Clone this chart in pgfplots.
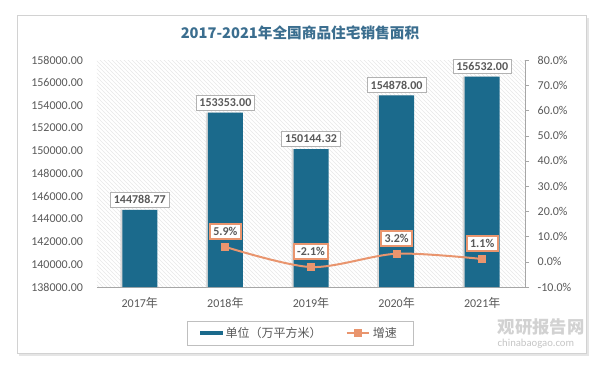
\documentclass[border=0pt]{standalone}
\usepackage{pgfplots}
\pgfplotsset{compat=1.18}
\usepackage{fontspec}
\setmainfont{Carlito}
\newfontfamily\cjk{Noto Sans CJK SC}
\usetikzlibrary{patterns}
\definecolor{barc}{HTML}{1B6A8C}
\definecolor{linec}{HTML}{E9956E}
\definecolor{titc}{HTML}{3B6E8F}
\definecolor{tickc}{HTML}{595959}
\begin{document}
\begin{tikzpicture}
\useasboundingbox (0pt,0pt) rectangle (450pt,276pt);
\begin{scope}[x=0.75pt,y=0.75pt]
\fill[gray!20] (19,12) rectangle (589,350);
\draw[gray!35, fill=white] (17,15) rectangle (586,353);
\node[font=\cjk\fontsize{11}{13}\selectfont\bfseries, text=titc] at (300,335) {2017-2021年全国商品住宅销售面积};
\node[font=\cjk\fontsize{13}{14}\selectfont\bfseries, text=gray!35, anchor=west] at (493,41) {观研报告网};
\node[font=\fontsize{8}{9}\selectfont, text=gray!45, anchor=west] at (493,24) {chinabaogao.com};
\end{scope}
\begin{axis}[
  at={(72.75pt,60.75pt)}, anchor=south west,
  width=321pt, height=170.25pt, scale only axis,
  xmin=-0.5, xmax=4.5, ymin=138000, ymax=158000,
  ytick distance=2000, scaled y ticks=false,
  axis background/.style={pattern=north west lines, pattern color=gray!18},
  axis x line*=bottom, axis y line*=left,
  y axis line style={draw=none},
  xtick={0,1,2,3,4},
  xticklabels={2017{\cjk 年},2018{\cjk 年},2019{\cjk 年},2020{\cjk 年},2021{\cjk 年}},
  major tick length=0pt,
  x axis line style={draw=gray!70},
  yticklabel={\pgfmathprintnumber[fixed,precision=2,zerofill,1000 sep={}]{\tick}},
  ticklabel style={font=\fontsize{9}{10}\selectfont, text=tickc},
  yticklabel style={xshift=-7pt},
  xticklabel style={yshift=-4pt},
  /pgf/number format/assume math mode=true,
  clip=false,
  legend style={at={(0.474,-0.203)}, anchor=center, draw=gray!50, legend columns=2,
    font=\cjk\fontsize{9}{10}\selectfont, text=tickc, /tikz/every even column/.append style={column sep=16pt},
    inner xsep=10pt, inner ysep=2.5pt},
  legend cell align=left,
]
\addplot[ybar, bar width=26.25pt, fill=gray!30, draw=none, bar shift=-1.5pt, forget plot]
  coordinates {(0,144788.77) (1,153353.00) (2,150144.32) (3,154878.00) (4,156532.00)};
\addplot[ybar, bar width=26.25pt, fill=barc, draw=none,
  legend image code/.code={\fill[barc] (0cm,-0.06cm) rectangle (0.6cm,0.06cm);},
  point meta=explicit symbolic,
  nodes near coords,
  every node near coord/.append style={font=\fontsize{9}{10}\selectfont\bfseries, text=tickc, fill=white, draw=gray!60, inner sep=2.5pt, anchor=south, yshift=2pt}]
  coordinates {(0,144788.77) [144788.77] (1,153353.00) [153353.00] (2,150144.32) [150144.32] (3,154878.00) [154878.00] (4,156532.00) [156532.00]};
\addlegendentry{单位（万平方米）}
\addlegendimage{linec, line width=1.5pt, mark=square*, mark size=2pt}
\addlegendentry{增速}
\end{axis}
\begin{axis}[
  at={(72.75pt,60.75pt)}, anchor=south west,
  width=321pt, height=170.25pt, scale only axis,
  xmin=-0.5, xmax=4.5, ymin=-10, ymax=80,
  ytick distance=10,
  axis y line*=right, axis x line*=bottom,
  x axis line style={draw=none}, xtick=\empty,
  y axis line style={draw=gray!70},
  ytick style={draw=gray!70},
  tick align=outside, major tick length=3pt,
  yticklabel={\pgfmathprintnumber[fixed,precision=1,zerofill]{\tick}\%},
  ticklabel style={font=\fontsize{9}{10}\selectfont, text=tickc},
  yticklabel style={xshift=3pt},
  /pgf/number format/assume math mode=true,
  clip=false,
]
\addplot[linec, line width=1.5pt, smooth, mark=square*, mark size=2.2pt,
  point meta=explicit symbolic,
  nodes near coords,
  every node near coord/.append style={font=\fontsize{9}{10}\selectfont\bfseries, text=tickc, fill=white, draw=linec, inner sep=2.5pt, anchor=south, yshift=5pt}]
  coordinates {(1,5.9) [5.9\%] (2,-2.1) [-2.1\%] (3,3.2) [3.2\%] (4,1.1) [1.1\%]};
\end{axis}
\end{tikzpicture}
\end{document}
